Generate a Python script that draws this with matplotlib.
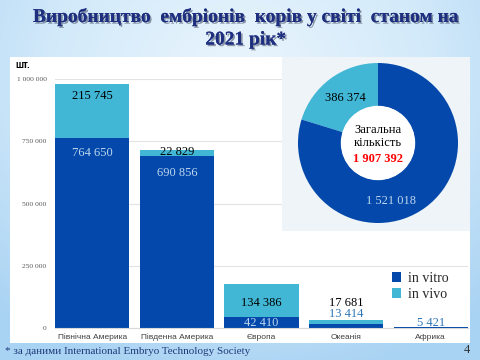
import numpy as np
import matplotlib
matplotlib.use("Agg")
import matplotlib.pyplot as plt
from matplotlib.patches import Rectangle, Circle
import matplotlib.patheffects as pe

regions = ["Північна Америка", "Південна Америка", "Європа", "Океанія", "Африка"]
in_vitro = [764650, 690856, 42410, 17681, 5421]
in_vivo = [215745, 22829, 134386, 13414, 0]
y_ticks = [0, 250000, 500000, 750000, 1000000]

DARK = "#0348AA"
LIGHT = "#41B7D5"
SERIF = "Liberation Serif"
SANS = "Liberation Sans"

W, H = 480, 360


def fx(px):
    return px / W


def fy(py):
    return 1 - py / H


def fmt(v):
    return f"{v:,}".replace(",", " ")


fig = plt.figure(figsize=(4.8, 3.6), dpi=100)

# slide background: soft blue gradient
bg = fig.add_axes([0, 0, 1, 1], zorder=-10)
gx, gy = np.meshgrid(np.linspace(-1, 1, 200), np.linspace(-1, 1, 150))
dist = np.sqrt((gx * 0.9) ** 2 + ((gy + 0.6) * 0.8) ** 2)
bg.imshow(dist, cmap=matplotlib.colors.LinearSegmentedColormap.from_list(
    "bgc", ["#eaf5fd", "#d3eafa", "#a9d3f3"]), aspect="auto", extent=[0, 1, 0, 1],
    vmin=0, vmax=1.4)
bg.axis("off")

# white chart panel and pie box
fig.add_artist(Rectangle((fx(10), fy(343)), fx(460), 286 / H, transform=fig.transFigure,
                         fc="white", ec="none", zorder=-5))
fig.add_artist(Rectangle((fx(282), fy(231)), fx(188), 174 / H, transform=fig.transFigure,
                         fc="#eef4f8", ec="none", zorder=1))

# title
title_fx = [pe.withSimplePatchShadow(offset=(1.2, -1.2), shadow_rgbFace="#404860", alpha=0.55),
            pe.Normal()]
fig.text(fx(246), fy(17), "Виробництво  ембріонів  корів у світі  станом на", ha="center",
         va="center", fontsize=14, fontweight="bold", family=SERIF, color="#1E2F80",
         path_effects=title_fx)
fig.text(fx(246), fy(40), "2021 рік*", ha="center", va="center", fontsize=14,
         fontweight="bold", family=SERIF, color="#1E2F80", path_effects=title_fx)

# bar chart
ax = fig.add_axes([fx(55), fy(328), fx(413), 249 / H], zorder=0)
ax.set_facecolor("none")
x = np.arange(len(regions))
ax.bar(x, in_vitro, width=0.88, color=DARK, label="in vitro", zorder=2)
ax.bar(x, in_vivo, width=0.88, bottom=in_vitro, color=LIGHT, label="in vivo", zorder=2)
ax.set_xlim(-0.44, len(regions) - 0.56)
ax.set_ylim(0, 1000000)
ax.set_yticks(y_ticks)
ax.set_yticklabels([fmt(v) for v in y_ticks], family=SERIF, fontsize=5.4, color="#595959")
ax.set_xticks(x)
ax.set_xticklabels(regions, family=SANS, fontsize=6, color="#404040")
ax.tick_params(axis="both", length=0)
ax.tick_params(axis="y", pad=6)
ax.tick_params(axis="x", pad=4)
ax.yaxis.grid(True, color="#e3e3e3", lw=0.8)
ax.set_axisbelow(True)
for s in ["top", "right", "left"]:
    ax.spines[s].set_visible(False)
ax.spines["bottom"].set_color("#d9d9d9")

# data labels (offsets in pixels from segment top)
vitro_dy = [-15, -17, -6, 21, 4]
vitro_col = ["#BDD7EE", "#BDD7EE", "#BDD7EE", "black", "#2E75B6"]
vivo_dy = [-12, -2, -19, 6, None]
vivo_col = ["black", "black", "black", "#2E75B6", None]
for i in range(len(regions)):
    ax.annotate(fmt(in_vitro[i]), (i, in_vitro[i]), xytext=(0, vitro_dy[i]),
                textcoords="offset pixels", ha="center", va="center", family=SERIF,
                fontsize=9, color=vitro_col[i], zorder=3, annotation_clip=False)
    if in_vivo[i] > 0:
        top = in_vitro[i] + in_vivo[i]
        ax.annotate(fmt(in_vivo[i]), (i, top), xytext=(0, vivo_dy[i]),
                    textcoords="offset pixels", ha="center", va="center", family=SERIF,
                    fontsize=9, color=vivo_col[i], zorder=3, annotation_clip=False)

leg = ax.legend(loc="upper left", bbox_to_anchor=(fx(382), fy(262)),
                bbox_transform=fig.transFigure, frameon=True, facecolor="white",
                edgecolor="none", framealpha=1, prop={"family": SERIF, "size": 10},
                handlelength=0.7, handleheight=0.7, handletextpad=0.5,
                labelspacing=0.25, borderpad=0.2)
leg.set_zorder(5)
for t in leg.get_texts():
    t.set_color("#262626")

fig.text(fx(15), fy(65), "шт.", family=SANS, fontsize=7, fontweight="bold",
         va="center", ha="left")

# donut
tot_vitro = sum(in_vitro)
tot_vivo = sum(in_vivo)
pax = fig.add_axes([fx(298), fy(223), fx(160), 160 / H], zorder=2)
pax.pie([tot_vivo, tot_vitro], colors=[LIGHT, DARK], startangle=90, counterclock=True,
        wedgeprops=dict(width=0.54, edgecolor="none"))
pax.add_patch(Circle((0, 0), 0.465, fc="white", ec="none"))
pax.set_xlim(-1, 1)
pax.set_ylim(-1, 1)
pax.set_aspect("equal")
pax.axis("off")
pax.text(-0.41, 0.56, fmt(tot_vivo), ha="center", va="center", family=SERIF,
         fontsize=9, color="black")
pax.text(0.16, -0.73, fmt(tot_vitro), ha="center", va="center", family=SERIF,
         fontsize=9, color="#BDD7EE")
pax.text(0, 0.08, "Загальна\nкількість", ha="center", va="center", family=SERIF,
         fontsize=9, color="black", linespacing=1.05)
pax.text(0, -0.2, fmt(tot_vivo + tot_vitro), ha="center", va="center", family=SERIF,
         fontsize=9, fontweight="bold", color="#FF0000")

# footnote and page number
fig.text(fx(5), fy(352), "* за даними International Embryo Technology Society",
         family=SERIF, fontsize=8, color="#1F3A7A", va="center", ha="left")
fig.text(fx(467), fy(350), "4", family=SERIF, fontsize=9, color="#303030",
         va="center", ha="center")

fig.savefig("out.png", dpi=100)
